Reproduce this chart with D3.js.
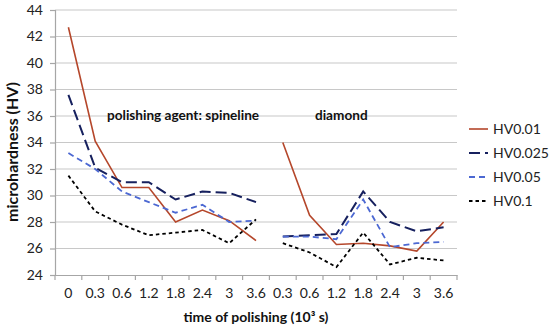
<!DOCTYPE html>
<html><head><meta charset="utf-8">
<script src="https://cdn.jsdelivr.net/npm/d3@7"></script>
<style>
body{margin:0;background:#fff;}
text{font-family:Lato,"Open Sans",sans-serif;}
</style></head>
<body><svg id="c" width="550" height="330"></svg>
<script>
const categories = ["0","0.3","0.6","1.2","1.8","2.4","3","3.6","0.3","0.6","1.2","1.8","2.4","3","3.6"];
const groups = [[0,8],[8,15]];
const seriesNames = ["HV0.01","HV0.025","HV0.05","HV0.1"];
const hv001  = [42.7,34.1,30.6,30.6,28.0,28.9,28.1,26.6, 34.0,28.5,26.3,26.4,26.2,25.8,28.0];
const hv0025 = [37.6,32.1,31.0,31.0,29.7,30.3,30.2,29.5, 26.9,27.0,27.1,30.3,28.0,27.3,27.6];
const hv005  = [33.2,32.0,30.3,29.5,28.7,29.3,28.0,28.1, 26.9,26.9,26.7,29.7,26.1,26.4,26.5];
const hv01   = [31.5,28.8,27.8,27.0,27.2,27.4,26.4,28.2, 26.4,25.7,24.6,27.2,24.8,25.3,25.1];
const yTicks = [24,26,28,30,32,34,36,38,40,42,44];
const annotations = [{text:"polishing agent: spineline", at:1.94, y:36},{text:"diamond", at:9.7, y:36}];

const styles = [
  {color:"#B5472B", dash:null, w:1.6, legDash:null},
  {color:"#16205E", dash:"11,5", w:2, legDash:"11,5"},
  {color:"#4C68D2", dash:"6,4", w:1.8, legDash:"6,4"},
  {color:"#000000", dash:"3.5,3", w:1.8, legDash:"3.5,3"}
];
const data = [hv001,hv0025,hv005,hv01];

const svg = d3.select("#c");
const L=55, R=457, T=10, B=275;
const x = d3.scaleBand().domain(d3.range(categories.length)).range([L,R]).padding(0);
const y = d3.scaleLinear().domain([24,44]).range([B,T]);
const cx = i => x(i)+x.bandwidth()/2;

// gridlines
svg.append("g").selectAll("line").data(yTicks.slice(1)).join("line")
  .attr("x1",L).attr("x2",R).attr("y1",d=>y(d)).attr("y2",d=>y(d))
  .attr("stroke","#c8c8c8").attr("stroke-width",1.2);

// y axis
const ya = svg.append("g").attr("transform",`translate(${L},0)`)
  .call(d3.axisLeft(y).tickValues(yTicks).tickSize(5).tickPadding(7));
ya.select(".domain").attr("stroke","#a6a6a6").attr("stroke-width",1.2);
ya.selectAll(".tick line").attr("stroke","#a6a6a6").attr("stroke-width",1.2);
ya.selectAll(".tick text").attr("font-size",14).attr("fill","#222").style("font-family","Lato,'Open Sans',sans-serif");

// x axis
const xa = svg.append("g").attr("transform",`translate(0,${B})`)
  .call(d3.axisBottom(x).tickFormat(i=>categories[i]).tickSize(0).tickPadding(13));
xa.select(".domain").attr("stroke","#a6a6a6").attr("stroke-width",1.2);
xa.selectAll(".tick text").attr("font-size",14).attr("fill","#222").style("font-family","Lato,'Open Sans',sans-serif");
xa.append("g").selectAll("line").data(d3.range(categories.length+1)).join("line")
  .attr("x1",i=>i<categories.length?x(i):R).attr("x2",i=>i<categories.length?x(i):R)
  .attr("y1",0).attr("y2",5).attr("stroke","#a6a6a6").attr("stroke-width",1.2);

// lines
const line = d3.line().x(d=>cx(d.i)).y(d=>y(d.v));
data.forEach((arr,k)=>{
  groups.forEach(([a,b])=>{
    const pts = d3.range(a,b).map(i=>({i,v:arr[i]}));
    svg.append("path").attr("d",line(pts)).attr("fill","none")
      .attr("stroke",styles[k].color).attr("stroke-width",styles[k].w)
      .attr("stroke-dasharray",styles[k].dash);
  });
});

// annotations
annotations.forEach(a=>{
  svg.append("text").attr("x",x(Math.floor(a.at))+x.bandwidth()*(a.at%1)).attr("y",y(a.y)+4)
    .attr("font-size",13.6).attr("font-weight","bold").attr("fill","#111").text(a.text);
});

// legend
const lg = svg.append("g");
seriesNames.forEach((n,k)=>{
  const yy = 129 + k*24;
  lg.append("line").attr("x1",469).attr("x2",488).attr("y1",yy).attr("y2",yy)
    .attr("stroke",styles[k].color).attr("stroke-width",styles[k].w)
    .attr("stroke-dasharray",styles[k].legDash);
  lg.append("text").attr("x",493).attr("y",yy+5).attr("font-size",14).attr("fill","#222").text(n);
});

// axis titles
svg.append("text").attr("x",(L+R)/2).attr("y",322).attr("text-anchor","middle")
  .attr("font-size",14).attr("font-weight","bold").attr("fill","#111")
  .text("time of polishing (10³ s)");
svg.append("text").attr("transform",`translate(18,152) rotate(-90)`).attr("text-anchor","middle")
  .attr("font-size",16).attr("font-weight","bold").attr("fill","#111")
  .text("microhardness (HV)");
</script></body></html>
